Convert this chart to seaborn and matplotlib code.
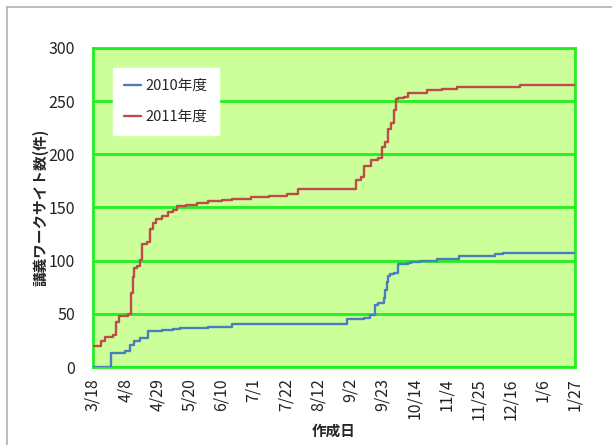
import numpy as np
import pandas as pd
import matplotlib
matplotlib.use("Agg")
import matplotlib.pyplot as plt
from matplotlib.lines import Line2D
import seaborn as sns

# Days elapsed since 3/18 and the cumulative number of course work sites
days_2010 = [0, 12, 21, 24, 27, 31, 36, 45, 52, 57, 75, 91, 166, 177, 181, 184, 186,
             190, 191, 192, 193, 194, 197, 199, 206, 208, 214, 225, 239, 263, 268, 315]
sites_2010 = [0, 13, 15, 21, 24, 27, 34, 35, 36, 37, 38, 40, 45, 46, 49, 58, 60,
              65, 72, 80, 86, 87, 88, 97, 98, 99, 100, 102, 104, 106, 107, 107]

days_2011 = [0, 5, 8, 13, 15, 17, 23, 25, 26, 27, 29, 31, 32, 35, 37, 39, 41, 45, 49,
             52, 55, 61, 68, 75, 84, 91, 103, 115, 127, 134, 171, 172, 175, 177, 182,
             186, 189, 191, 193, 195, 197, 198, 199, 203, 206, 218, 228, 238, 279, 315]
sites_2011 = [20, 24, 28, 30, 42, 48, 50, 70, 85, 93, 95, 101, 116, 118, 130, 135, 139,
              142, 146, 148, 151, 152, 154, 156, 157, 158, 159.5, 161, 163, 167, 167,
              176, 179, 189, 195, 197, 207, 212, 224, 229, 242, 252, 253, 254, 258,
              260.5, 261.5, 263.5, 265, 265]

series_names = ["2010年度", "2011年度"]
series_colors = ["#4A7EBB", "#BE4B48"]

tick_days = list(range(0, 316, 21))
tick_labels = ["3/18", "4/8", "4/29", "5/20", "6/10", "7/1", "7/22", "8/12", "9/2",
               "9/23", "10/14", "11/4", "11/25", "12/16", "1/6", "1/27"]

df = pd.concat([
    pd.DataFrame({"day": days_2010, "sites": sites_2010, "year": series_names[0]}),
    pd.DataFrame({"day": days_2011, "sites": sites_2011, "year": series_names[1]}),
], ignore_index=True)

sns.set_style("white")
plt.rcParams["font.family"] = ["Noto Sans CJK JP", "DejaVu Sans"]

fig = plt.figure(figsize=(6.12, 4.45), dpi=100)
ax = fig.add_axes([93 / 612, 1 - 367 / 445, (575 - 93) / 612, (367 - 48) / 445])

grid_green = "#22EE22"
ax.set_facecolor("#CCFF99")

sns.lineplot(data=df, x="day", y="sites", hue="year", palette=series_colors,
             hue_order=series_names, estimator=None, sort=True,
             drawstyle="steps-post", linewidth=1.7, ax=ax, legend=False, zorder=3)

ax.set_xlim(0, 315)
ax.set_ylim(0, 300)
ax.set_yticks(range(0, 301, 50))
ax.set_xticks(tick_days)
ax.set_xticklabels(tick_labels, rotation=90)
ax.tick_params(axis="y", length=0, labelsize=11.5, colors="#222222", pad=13)
ax.tick_params(axis="x", length=0, labelsize=11.5, colors="#222222", pad=8)

ax.yaxis.grid(True, color=grid_green, linewidth=2.0)
ax.xaxis.grid(False)
ax.set_axisbelow(True)
for sp in ax.spines.values():
    sp.set_visible(True)
    sp.set_color(grid_green)
    sp.set_linewidth(2.0)

ax.set_xlabel("作成日", fontsize=10.5, fontweight="bold", labelpad=2)
ax.set_ylabel("講義ワークサイト数(件)", fontsize=10.5, fontweight="bold", labelpad=0)

handles = [Line2D([0], [0], color=c, linewidth=1.7) for c in series_colors]
leg = ax.legend(handles, series_names, loc="upper left", bbox_to_anchor=(0.041, 0.937),
                borderaxespad=0, frameon=True, fancybox=False, framealpha=1,
                edgecolor="white", facecolor="white", fontsize=10.5,
                handlelength=1.2, handletextpad=0.3, labelspacing=1.15,
                borderpad=0.75)
leg.set_zorder(5)

# Thin grey frame around the chart area
fig.add_artist(Line2D([7 / 612, 7 / 612], [0, 1 - 7 / 445], color="#B0B0B0", linewidth=1.2))
fig.add_artist(Line2D([7 / 612, 1], [1 - 7 / 445, 1 - 7 / 445], color="#B0B0B0", linewidth=1.2))

fig.savefig("out.png", dpi=100, facecolor="white")
